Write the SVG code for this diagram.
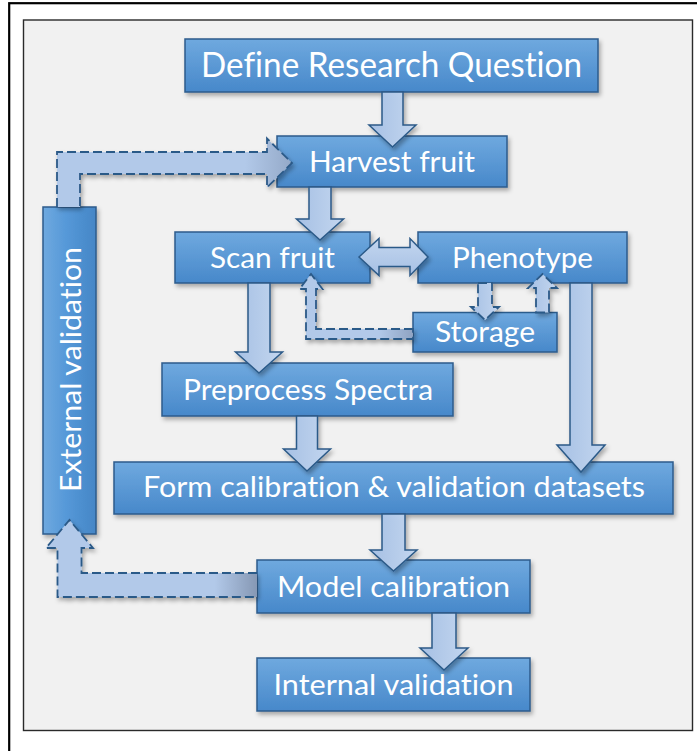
<svg xmlns="http://www.w3.org/2000/svg" width="697" height="751" viewBox="0 0 697 751">
  <defs>
    <linearGradient id="boxFill" x1="0" y1="0" x2="0" y2="1">
      <stop offset="0" stop-color="#6fa9df"/>
      <stop offset="1" stop-color="#4788ca"/>
    </linearGradient>
    <linearGradient id="boxFillSide" x1="0" y1="0" x2="1" y2="0">
      <stop offset="0" stop-color="#6fa9df"/>
      <stop offset="0.45" stop-color="#5598d8"/>
      <stop offset="1" stop-color="#4586c6"/>
    </linearGradient>
    <linearGradient id="arrowFill" x1="0" y1="0" x2="1" y2="0">
      <stop offset="0" stop-color="#a6c0e4"/>
      <stop offset="1" stop-color="#c3d6ef"/>
    </linearGradient>
    <linearGradient id="arrowFillH" x1="0" y1="0" x2="0" y2="1">
      <stop offset="0" stop-color="#c3d6ef"/>
      <stop offset="1" stop-color="#a6c0e4"/>
    </linearGradient>
    <linearGradient id="loopTop" gradientUnits="userSpaceOnUse" x1="57" y1="0" x2="292" y2="0">
      <stop offset="0" stop-color="#b2c9e9"/>
      <stop offset="0.8" stop-color="#b2c9e9"/>
      <stop offset="1" stop-color="#94a9c8"/>
    </linearGradient>
    <linearGradient id="loopBottom" gradientUnits="userSpaceOnUse" x1="46" y1="0" x2="257" y2="0">
      <stop offset="0" stop-color="#b2c9e9"/>
      <stop offset="0.8" stop-color="#b2c9e9"/>
      <stop offset="1" stop-color="#8698b4"/>
    </linearGradient>
    <linearGradient id="loopStorage" gradientUnits="userSpaceOnUse" x1="299" y1="0" x2="413" y2="0">
      <stop offset="0" stop-color="#b2c9e9"/>
      <stop offset="0.7" stop-color="#b2c9e9"/>
      <stop offset="1" stop-color="#8fa3c2"/>
    </linearGradient>
    <filter id="shadow" x="-20%" y="-20%" width="140%" height="150%">
      <feDropShadow dx="2" dy="3" stdDeviation="2" flood-color="#000" flood-opacity="0.3"/>
    </filter>
  </defs>
  <style>
    .box { fill: url(#boxFill); stroke: #2c5b8c; stroke-width: 1.5; filter: url(#shadow); }
    .label { font-family: Lato, "Liberation Sans", sans-serif; font-size: 29px; fill: #ffffff; text-anchor: middle; font-variant-ligatures: none; font-feature-settings: "liga" 0, "clig" 0; }
    .big { font-size: 34px; }
    .arrow { fill: url(#arrowFill); stroke: #2c5a88; stroke-width: 1.5; stroke-linejoin: miter; filter: url(#shadow); }
    .dash { stroke: #2c5a88; stroke-width: 1.8; stroke-dasharray: 9 4; stroke-linejoin: miter; }
  </style>

  <!-- page frame and panel -->
  <rect x="9.2" y="3.2" width="700" height="760" fill="#ffffff" stroke="#000000" stroke-width="2.2"/>
  <rect x="23.5" y="20" width="669" height="710.5" fill="#f1f1f1" stroke="#2a2a2a" stroke-width="1.4"/>

  <!-- process steps -->
  <g id="define-question">
    <rect class="box" x="185" y="39" width="413" height="53"/>
    <text class="label big" x="391.5" y="77" textLength="381" lengthAdjust="spacingAndGlyphs">Define Research Question</text>
  </g>
  <g id="harvest-fruit">
    <rect class="box" x="277" y="136" width="230" height="51"/>
    <text class="label" x="392" y="172" textLength="166" lengthAdjust="spacingAndGlyphs">Harvest fruit</text>
  </g>
  <g id="scan-fruit">
    <rect class="box" x="175" y="232" width="195" height="51"/>
    <text class="label" x="272.5" y="268" textLength="125" lengthAdjust="spacingAndGlyphs">Scan fruit</text>
  </g>
  <g id="phenotype">
    <rect class="box" x="418" y="232" width="209" height="51"/>
    <text class="label" x="522.5" y="268" textLength="141" lengthAdjust="spacingAndGlyphs">Phenotype</text>
  </g>
  <g id="storage">
    <rect class="box" x="413" y="312.5" width="144" height="39.5"/>
    <text class="label" x="485" y="342" textLength="100" lengthAdjust="spacingAndGlyphs">Storage</text>
  </g>
  <g id="preprocess-spectra">
    <rect class="box" x="162" y="363" width="291" height="53"/>
    <text class="label" x="308" y="399.5" textLength="250" lengthAdjust="spacingAndGlyphs">Preprocess Spectra</text>
  </g>
  <g id="form-datasets">
    <rect class="box" x="114" y="462" width="559" height="52"/>
    <text class="label" x="394" y="497" textLength="502" lengthAdjust="spacingAndGlyphs">Form calibration &amp; validation datasets</text>
  </g>
  <g id="external-validation">
    <rect class="box" x="43" y="207" width="53" height="327" style="fill:url(#boxFillSide)"/>
    <text class="label" transform="translate(81 369.5) rotate(-90)" x="0" y="0" textLength="245" lengthAdjust="spacingAndGlyphs">External validation</text>
  </g>
  <g id="model-calibration">
    <rect class="box" x="257" y="560" width="273" height="53"/>
    <text class="label" x="393.5" y="597" textLength="233" lengthAdjust="spacingAndGlyphs">Model calibration</text>
  </g>
  <g id="internal-validation">
    <rect class="box" x="257" y="658" width="273" height="53"/>
    <text class="label" x="393.5" y="695" textLength="240" lengthAdjust="spacingAndGlyphs">Internal validation</text>
  </g>

  <!-- connectors: block arrows between steps -->
  <g id="connectors">
    <path class="arrow" d="M382,92 L403,92 L403,125 L416,125 L392.5,147 L369,125 L382,125 Z"/>
    <path class="arrow" d="M309,187 L331,187 L331,219 L343.5,219 L320,240 L296.5,219 L309,219 Z"/>
    <path class="arrow" d="M248,283 L270,283 L270,352 L282.5,352 L259,373 L235.5,352 L248,352 Z"/>
    <path class="arrow" d="M296.5,416 L317.5,416 L317.5,449 L330.5,449 L307,471 L283.5,449 L296.5,449 Z"/>
    <path class="arrow" d="M570,283 L592,283 L592,445 L605,445 L581,472 L557,445 L570,445 Z"/>
    <path class="arrow" d="M382,514 L405,514 L405,550 L417,550 L393.5,571 L370,550 L382,550 Z"/>
    <path class="arrow" d="M432,613 L456,613 L456,648 L468,648 L444,670 L420,648 L432,648 Z"/>
    <!-- scan fruit <-> phenotype -->
    <path class="arrow" style="fill:url(#arrowFillH)" d="M359,257 L379,238.5 L379,247.5 L410,247.5 L410,238.5 L428,257 L410,275.5 L410,266.5 L379,266.5 L379,275.5 Z"/>
    <!-- phenotype <-> storage -->
    <path class="arrow dash" d="M478,283 L492,283 L492,307 L499,307 L485,320 L471,307 L478,307 Z"/>
    <path class="arrow dash" d="M536,312.5 L549,312.5 L549,288 L557,288 L542.5,274 L528,288 L536,288 Z"/>
    <!-- storage back to scan fruit -->
    <path class="arrow dash" style="fill:url(#loopStorage)" d="M413,329 L316,329 L316,289 L322.5,289 L311,274 L299.5,289 L306,289 L306,339 L413,339 Z"/>
    <!-- external validation loop back to harvest -->
    <path class="arrow dash" style="fill:url(#loopTop)" d="M57,207 L57,152 L267,152 L267,138.5 L292,163 L267,187.5 L267,174 L80,174 L80,207"/>
    <!-- model calibration to external validation -->
    <path class="arrow dash" style="fill:url(#loopBottom)" d="M257,573 L81.5,573 L81.5,548 L93,548 L69.5,520 L46,548 L57.5,548 L57.5,597 L257,597"/>
  </g>
</svg>
